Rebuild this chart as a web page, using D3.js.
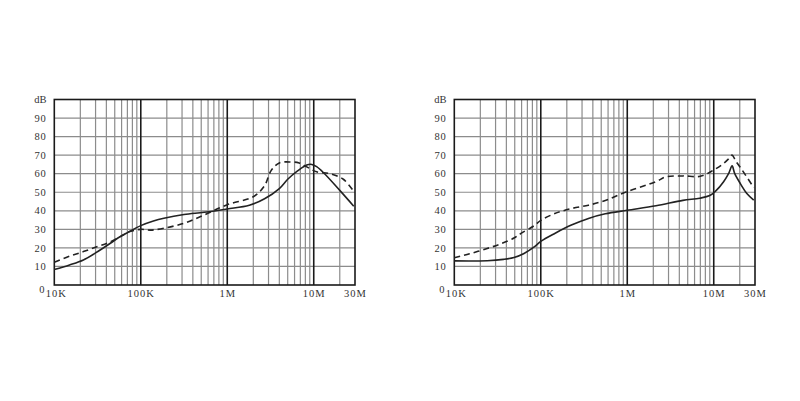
<!DOCTYPE html>
<html>
<head>
<meta charset="utf-8">
<script src="https://cdn.jsdelivr.net/npm/d3@7"></script>
<style>
    html, body { margin: 0; padding: 0; background: #fff; }
    svg { display: block; }
</style>
</head>
<body>
<div id="chart"></div>
<script>
// tick values and labels
const yTicks = [10, 20, 30, 40, 50, 60, 70, 80, 90];
const xTicks = [1e4, 1e5, 1e6, 1e7, 3e7];
const xTickLabels = ["10K", "100K", "1M", "10M", "30M"];
const majorLines = [1e5, 1e6, 1e7];
const decadeStarts = [1e4, 1e5, 1e6];
const minorSteps = [2, 3, 4, 5, 6, 7, 8, 9];
const extraMinor = [2e7];

// left chart, [frequency Hz, dB]
const leftSolid = [
    [1e4, 8.3], [1.5e4, 10.8], [2.17e4, 13.5], [3e4, 17.3], [4.45e4, 22.5],
    [5.5e4, 25.5], [7e4, 28.2], [1e5, 32], [1.4e5, 34.5], [1.85e5, 36],
    [3.16e5, 38], [5.4e5, 39.2], [1e6, 41], [1.8e6, 43], [2.7e6, 46.5],
    [4e6, 52], [5e6, 57], [6.5e6, 61.5], [8.3e6, 64.7], [9.5e6, 65],
    [1.08e7, 63.8], [1.3e7, 60.5], [2e7, 51], [2.9e7, 42.5]
];
const leftDashed = [
    [1e4, 12.3], [1.5e4, 15.5], [2.17e4, 18], [3.1e4, 20.6], [4.45e4, 23.3],
    [6e4, 26.5], [7.5e4, 28.8], [1e5, 30], [1.3e5, 29.6], [1.85e5, 30.6],
    [3.16e5, 33.3], [5.4e5, 37.7], [1e6, 43.3], [2e6, 47.6], [2.7e6, 53.5],
    [3.2e6, 61.5], [4e6, 65.8], [5.5e6, 66.3], [6.8e6, 65.8], [8.3e6, 63.7],
    [1.08e7, 61], [1.55e7, 60], [2.2e7, 57], [2.9e7, 50.5]
];

// right chart, [frequency Hz, dB]
const rightSolid = [
    [1e4, 13], [2.4e4, 13.1], [3.7e4, 13.8], [4.9e4, 14.8], [6.4e4, 17],
    [8.4e4, 20.5], [1e5, 23.5], [1.45e5, 27.8], [2.26e5, 32.3], [3.56e5, 35.9],
    [5.57e5, 38.4], [1e6, 40.3], [2.15e6, 42.7], [4.4e6, 45.6], [6.9e6, 46.8],
    [9e6, 48.2], [1.05e7, 50.6], [1.3e7, 55.7], [1.5e7, 60.5], [1.63e7, 64.2],
    [1.75e7, 60], [2.04e7, 54.5], [2.4e7, 49.5], [2.9e7, 45.8]
];
const rightDashed = [
    [1e4, 14.7], [1.5e4, 16.8], [2.4e4, 19.7], [3.5e4, 22.3], [4.9e4, 25.3],
    [5.9e4, 27.8], [8.4e4, 32], [1e5, 34.8], [1.45e5, 38.5], [2.26e5, 41.2],
    [3.56e5, 43], [5.57e5, 45.6], [1e6, 50.4], [2.15e6, 55.7], [2.8e6, 58.3],
    [4.4e6, 58.8], [7e6, 58.6], [1e7, 62], [1.3e7, 65.5], [1.5e7, 68.2],
    [1.63e7, 70], [1.8e7, 66.8], [2.2e7, 61], [2.9e7, 52.5]
];

const width = 800;
const height = 401;

const svg = d3.select("#chart")
    .append("svg")
    .attr("width", width)
    .attr("height", height)
    .attr("viewBox", `0 0 ${width} ${height}`);

const drawPanel = (offsetX, solid, dashed) => {
    const left = 54.3;
    const right = 355;
    const top = 99.5;
    const bottom = 285;

    const g = svg.append("g")
        .attr("transform", `translate(${offsetX}, 0)`);

    const x = d3.scaleLog().domain([1e4, 3e7]).range([left, right]);
    const y = d3.scaleLinear().domain([0, 100]).range([bottom, top]);

    const minor = decadeStarts
        .flatMap(d => minorSteps.map(s => d * s))
        .concat(extraMinor);

    g.append("g")
        .selectAll("line")
        .data(minor)
        .join("line")
        .attr("x1", d => x(d))
        .attr("x2", d => x(d))
        .attr("y1", top)
        .attr("y2", bottom)
        .attr("stroke", "#8c8c8c")
        .attr("stroke-width", 1.2);

    g.append("g")
        .selectAll("line")
        .data(yTicks)
        .join("line")
        .attr("x1", left)
        .attr("x2", right)
        .attr("y1", d => y(d))
        .attr("y2", d => y(d))
        .attr("stroke", "#8c8c8c")
        .attr("stroke-width", 1.2);

    g.append("g")
        .selectAll("line")
        .data(majorLines)
        .join("line")
        .attr("x1", d => x(d))
        .attr("x2", d => x(d))
        .attr("y1", top)
        .attr("y2", bottom)
        .attr("stroke", "#1a1a1a")
        .attr("stroke-width", 1.6);

    g.append("rect")
        .attr("x", left)
        .attr("y", top)
        .attr("width", right - left)
        .attr("height", bottom - top)
        .attr("fill", "none")
        .attr("stroke", "#1a1a1a")
        .attr("stroke-width", 1.6);

    const line = d3.line()
        .x(d => x(d[0]))
        .y(d => y(d[1]))
        .curve(d3.curveCatmullRom.alpha(0.5));

    g.append("path")
        .datum(dashed)
        .attr("d", line)
        .attr("fill", "none")
        .attr("stroke", "#222")
        .attr("stroke-width", 1.6)
        .attr("stroke-dasharray", "6,4");

    g.append("path")
        .datum(solid)
        .attr("d", line)
        .attr("fill", "none")
        .attr("stroke", "#222")
        .attr("stroke-width", 1.6);

    const font = "'Liberation Serif', 'DejaVu Serif', serif";

    g.append("g")
        .selectAll("text")
        .data(yTicks)
        .join("text")
        .attr("x", 46.5)
        .attr("y", d => y(d) + 3.6)
        .attr("text-anchor", "end")
        .attr("font-family", font)
        .attr("font-size", 10.5)
        .attr("letter-spacing", 0.8)
        .attr("fill", "#333")
        .text(d => d);

    g.append("text")
        .attr("x", 46.5)
        .attr("y", top + 3.6)
        .attr("text-anchor", "end")
        .attr("font-family", font)
        .attr("font-size", 10.5)
        .attr("fill", "#333")
        .text("dB");

    g.append("text")
        .attr("x", 44.5)
        .attr("y", 292.5)
        .attr("text-anchor", "end")
        .attr("font-family", font)
        .attr("font-size", 10.5)
        .attr("fill", "#333")
        .text("0");

    g.append("g")
        .selectAll("text")
        .data(xTicks)
        .join("text")
        .attr("x", (d, i) => x(d) + (i === 0 ? 2 : 0.5))
        .attr("y", 296.5)
        .attr("text-anchor", "middle")
        .attr("font-family", font)
        .attr("font-size", 10.5)
        .attr("letter-spacing", 1)
        .attr("fill", "#333")
        .text((d, i) => xTickLabels[i]);
};

drawPanel(0, leftSolid, leftDashed);
drawPanel(400, rightSolid, rightDashed);
</script>
</body>
</html>
